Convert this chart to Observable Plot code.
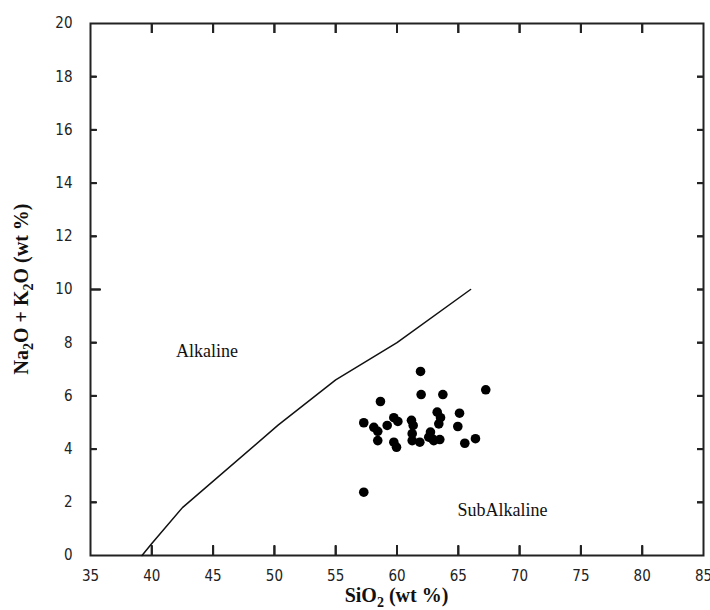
<!DOCTYPE html>
<html><head><meta charset="utf-8">
<script src="https://cdn.jsdelivr.net/npm/d3@7"></script>
<script src="https://cdn.jsdelivr.net/npm/@observablehq/plot@0.6"></script>
<style>body{margin:0;background:#fff}</style>
</head><body><div id="chart"></div>
<script>
// Sample compositions (wt %)
const sio2   = [61.92,61.97,63.74,67.24,58.65,57.29,58.11,58.43,58.43,59.20,59.74,60.07,59.74,59.96,61.18,61.32,61.24,61.24,61.86,62.73,62.87,63.28,63.55,63.41,63.49,63.00,65.10,64.96,65.53,66.40,57.29,62.59];
const alkali = [6.92,6.05,6.05,6.23,5.79,4.99,4.82,4.67,4.32,4.89,5.18,5.04,4.26,4.07,5.08,4.89,4.58,4.32,4.26,4.64,4.39,5.39,5.18,4.95,4.36,4.32,5.35,4.85,4.22,4.39,2.38,4.45];
// Alkaline / SubAlkaline dividing line (Irvine & Baragar)
const divideSiO2 = [39.2,40.0,42.5,50.3,55.0,60.0,66.0];
const divideAlk  = [0.0,0.45,1.8,4.9,6.6,8.0,10.0];
// Field labels
const fieldNames = ["Alkaline","SubAlkaline"];
const fieldSiO2  = [44.5,68.6];
const fieldAlk   = [7.67,1.69];
// Ticks
const xTicks = [35,40,45,50,55,60,65,70,75,80,85];
const xInner = [40,45,50,55,60,65,70,75,80];
const yTicks = [0,2,4,6,8,10,12,14,16,18,20];
const yInner = [2,4,6,8,12,14,16,18];
const yLong  = [10];

const samples = sio2.map((x,i)=>({x, y: alkali[i]}));
const divide = divideSiO2.map((x,i)=>({x, y: divideAlk[i]}));
const fields = fieldNames.map((t,i)=>({t, x: fieldSiO2[i], y: fieldAlk[i]}));

const W = 710, H = 610, mL = 90, mR = 7, mT = 23, mB = 55;
const innerW = W - mL - mR, innerH = H - mT - mB;
const tickFont = "'DejaVu Sans Condensed', 'DejaVu Sans', sans-serif";
const ink = "#222";
const tk = {fill: "none", stroke: ink, strokeWidth: 2, label: null};
const rk = {stroke: ink, strokeWidth: 2};

const plot = Plot.plot({
  width: W, height: H,
  marginLeft: mL, marginRight: mR, marginTop: mT, marginBottom: mB,
  style: {fontFamily: tickFont, fontSize: "15px", color: ink, background: "#fff", overflow: "visible"},
  x: {domain: [35,85]},
  y: {domain: [0,20]},
  marks: [
    Plot.frame({stroke: ink, strokeWidth: 2}),
    Plot.axisX(xTicks, {anchor: "bottom", tickSize: 0, tickPadding: 15, label: null, fill: ink}),
    Plot.axisY(yTicks, {anchor: "left", tickSize: 0, tickPadding: 18, label: null, fill: ink}),
    // inward ticks (opposite-anchored axes shifted onto the frame edges)
    Plot.axisX(xInner, {anchor: "top", tickSize: 10, dy: innerH, ...tk}),
    Plot.axisX(xInner, {anchor: "bottom", tickSize: 10, dy: -innerH, ...tk}),
    Plot.axisY(yInner, {anchor: "right", tickSize: 6, dx: -innerW, ...tk}),
    Plot.axisY(yLong, {anchor: "right", tickSize: 10, dx: -innerW, ...tk}),
    Plot.axisY(yInner.concat(yLong), {anchor: "left", tickSize: 6, dx: innerW, ...tk}),
    // same inward ticks as inset rules
    Plot.ruleX(xInner, {x: d => d, insetTop: innerH - 10, ...rk}),
    Plot.ruleX(xInner, {x: d => d, insetBottom: innerH - 10, ...rk}),
    Plot.ruleY(yInner, {y: d => d, insetRight: innerW - 6, ...rk}),
    Plot.ruleY(yLong, {y: d => d, insetRight: innerW - 10, ...rk}),
    Plot.ruleY(yInner.concat(yLong), {y: d => d, insetLeft: innerW - 6, ...rk}),
    Plot.line(divide, {x: "x", y: "y", stroke: "#111", strokeWidth: 1.5}),
    Plot.dot(samples, {x: "x", y: "y", r: 4.8, fill: "#000", stroke: "none"}),
    Plot.text(fields, {x: "x", y: "y", text: "t", fontFamily: "'Liberation Serif', serif", fontSize: 18, fill: "#111"})
  ]
});

const svg = d3.select(plot);
const serif = "'Liberation Serif', 'Times New Roman', serif";
// x-axis title
const xt = svg.append("text")
  .attr("x", 396.5).attr("y", 602)
  .attr("text-anchor", "middle")
  .attr("font-family", serif).attr("font-weight", "bold").attr("font-size", 20).attr("fill", "#111");
xt.append("tspan").text("SiO");
xt.append("tspan").attr("font-size", 14).attr("dy", 5).text("2");
xt.append("tspan").attr("dy", -5).text(" (wt %)");
// y-axis title
const yt = svg.append("text")
  .attr("transform", "translate(28,289) rotate(-90)")
  .attr("text-anchor", "middle")
  .attr("font-family", serif).attr("font-weight", "bold").attr("font-size", 20).attr("fill", "#111");
yt.append("tspan").text("Na");
yt.append("tspan").attr("font-size", 14).attr("dy", 5).text("2");
yt.append("tspan").attr("dy", -5).text("O + K");
yt.append("tspan").attr("font-size", 14).attr("dy", 5).text("2");
yt.append("tspan").attr("dy", -5).text("O (wt %)");

document.getElementById("chart").appendChild(plot);
</script>
</body></html>
